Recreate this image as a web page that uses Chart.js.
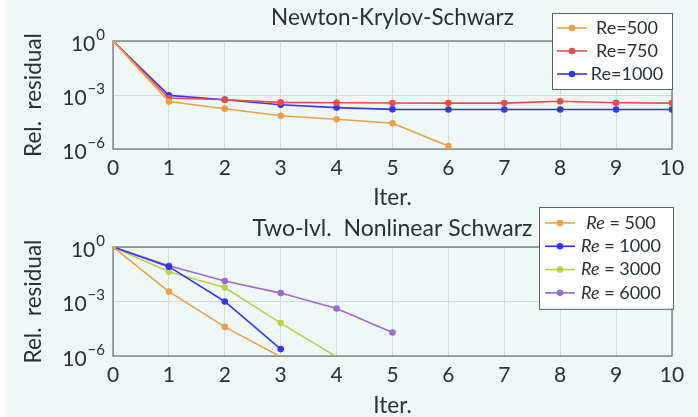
<!DOCTYPE html>
<html><head><meta charset="utf-8">
<script src="https://cdn.jsdelivr.net/npm/chart.js@4.4.1/dist/chart.umd.min.js"></script>
<style>
html,body{margin:0;padding:0;background:#fff;width:698px;height:417px;overflow:hidden;}
#panel{position:absolute;left:5px;top:0;width:693px;height:417px;background:#eff8f7;}
.c{position:absolute;left:0;width:698px;}
</style></head><body>
<div id="panel"></div>
<div class="c" style="top:0;height:215px"><canvas id="c1"></canvas></div>
<div class="c" style="top:200px;height:217px"><canvas id="c2"></canvas></div>
<script>
// ---- data ----
const iterations = [0,1,2,3,4,5,6,7,8,9,10];
const yTickValues = [1, 1e-3, 1e-6];
const yTickBase = '10';
const yTickExponents = ['0', '−3', '−6'];

// Newton-Krylov-Schwarz
const nksRe = [500, 750, 1000];
const nksRe500  = [1, 4.3e-4, 1.74e-4, 7.1e-5, 4.5e-5, 2.7e-5, 1.48e-6];
const nksRe750  = [1, 6.8e-4, 5.4e-4, 3.9e-4, 3.7e-4, 3.6e-4, 3.55e-4, 3.55e-4, 4.5e-4, 3.7e-4, 3.55e-4];
const nksRe1000 = [1, 9.5e-4, 5.5e-4, 2.9e-4, 2.0e-4, 1.6e-4, 1.55e-4, 1.55e-4, 1.55e-4, 1.55e-4, 1.55e-4];

// Two-level nonlinear Schwarz
const tlRe = [500, 1000, 3000, 6000];
const tlRe500  = [1, 3.5e-3, 4.0e-5, 9e-7];
const tlRe1000 = [1, 8.3e-2, 1.0e-3, 2.4e-6];
const tlRe3000 = [1, 4.3e-2, 5.9e-3, 6.5e-5, 9e-7];
const tlRe6000 = [1, 9.3e-2, 1.35e-2, 2.9e-3, 4.1e-4, 1.95e-5];

// ---- styling ----
const FONT = "Lato, 'DejaVu Sans', sans-serif";
const TXT = '#263238';
const COL = {orange:'#e8a04a', red:'#ee4b48', blue:'#3535f5', green:'#bcd050', purple:'#9a6bd0'};

function series(vals){ return vals.map((v,i)=>({x:iterations[i], y:v})); }
function ds(label, vals, color){
  return {label, data: series(vals), borderColor: color, backgroundColor: color,
    borderWidth: 1.6, pointRadius: c => (c.raw && c.raw.y < 1e-6 ? 0 : 3.3),
    pointHoverRadius: 3.3, pointBorderWidth: 0, tension: 0};
}

const titlePlugin = {
  id: 'plotTitle',
  afterDraw(chart, args, o){
    const ctx = chart.ctx, ca = chart.chartArea;
    ctx.save();
    ctx.font = o.size + 'px ' + FONT;
    ctx.fillStyle = TXT; ctx.textAlign = 'center'; ctx.textBaseline = 'middle';
    ctx.fillText(o.text, (ca.left + ca.right)/2, ca.top + o.dy);
    ctx.restore();
  }
};
const powTicksPlugin = {
  id: 'powTicks',
  afterDraw(chart){
    const ctx = chart.ctx, sy = chart.scales.y, right = chart.chartArea.left - 8;
    ctx.save(); ctx.fillStyle = TXT; ctx.textBaseline = 'middle'; ctx.textAlign = 'left';
    yTickValues.forEach((v, i) => {
      const py = sy.getPixelForValue(v);
      ctx.font = '15px ' + FONT; const we = ctx.measureText(yTickExponents[i]).width;
      ctx.font = '21px ' + FONT; const wb = ctx.measureText(yTickBase).width;
      const x0 = right - we - wb - 1;
      ctx.fillText(yTickBase, x0, py + 3);
      ctx.font = '15px ' + FONT; ctx.fillText(yTickExponents[i], x0 + wb + 1, py - 6);
    });
    ctx.restore();
  }
};
const boxPlugin = {
  id: 'plotBox',
  beforeDatasetsDraw(chart){
    const ctx = chart.ctx, ca = chart.chartArea;
    ctx.save(); ctx.strokeStyle = '#6b7070'; ctx.lineWidth = 1.2;
    ctx.strokeRect(ca.left, ca.top, ca.right - ca.left, ca.bottom - ca.top);
    ctx.restore();
  }
};
const legendPlugin = {
  id: 'boxLegend',
  afterDraw(chart, args, o){
    const ctx = chart.ctx, ca = chart.chartArea, list = chart.data.datasets;
    const h = list.length * o.rowH + 2*o.pad;
    const x1 = ca.right + o.dx - o.width, y1 = ca.top + o.dy;
    ctx.save();
    ctx.fillStyle = '#fff'; ctx.fillRect(x1, y1, o.width, h);
    ctx.strokeStyle = '#5a5f60'; ctx.lineWidth = 1; ctx.strokeRect(x1 + 0.5, y1 + 0.5, o.width, h);
    list.forEach((d, i) => {
      const y = y1 + o.pad + o.rowH*(i + 0.5);
      ctx.strokeStyle = d.borderColor; ctx.lineWidth = 1.6;
      ctx.beginPath(); ctx.moveTo(x1 + o.lx, y); ctx.lineTo(x1 + o.lx + 30, y); ctx.stroke();
      ctx.fillStyle = d.borderColor; ctx.beginPath(); ctx.arc(x1 + o.lx + 15, y, 3.3, 0, 2*Math.PI); ctx.fill();
      ctx.fillStyle = TXT; ctx.textBaseline = 'middle'; ctx.textAlign = 'left';
      const cx = x1 + o.tx;
      if (o.italic) {
        const [a, b] = [d.label.slice(0, 2), d.label.slice(2)];
        ctx.font = 'italic ' + o.size + 'px ' + FONT; const wa = ctx.measureText(a).width;
        ctx.font = o.size + 'px ' + FONT; const wb = ctx.measureText(b).width;
        const sx = cx - (wa + wb)/2;
        ctx.font = 'italic ' + o.size + 'px ' + FONT; ctx.fillText(a, sx, y);
        ctx.font = o.size + 'px ' + FONT; ctx.fillText(b, sx + wa, y);
      } else {
        ctx.font = o.size + 'px ' + FONT; ctx.textAlign = 'center'; ctx.fillText(d.label, cx, y);
      }
    });
    ctx.restore();
  }
};

function makeChart(id, datasets, cfg){
  return new Chart(document.getElementById(id), {
    type: 'line',
    data: { datasets },
    plugins: [boxPlugin, titlePlugin, powTicksPlugin, legendPlugin],
    options: {
      responsive: true, maintainAspectRatio: false, animation: false,
      layout: { padding: { left: 0, right: 26, top: cfg.top, bottom: 0 } },
      clip: 0,
      plugins: {
        legend: { display: false }, tooltip: { enabled: false }, title: { display: false },
        plotTitle: cfg.title,
        boxLegend: cfg.legend
      },
      scales: {
        x: {
          type: 'linear', min: 0, max: 10,
          afterFit: s => { s.height = cfg.xHeight; },
          ticks: { stepSize: 1, padding: 7, color: TXT, font: { family: FONT, size: 21 } },
          grid: { color: '#d3dada', lineWidth: 1, drawTicks: false },
          border: { display: false },
          title: { display: true, text: 'Iter.', color: TXT, font: { family: FONT, size: 22.5, lineHeight: 1 }, padding: { top: 0, bottom: cfg.xTitlePad } }
        },
        y: {
          type: 'logarithmic', min: 1e-6, max: 1,
          afterFit: s => { s.width = 113; },
          afterBuildTicks: s => { s.ticks = yTickValues.map(v => ({ value: v })); },
          ticks: { display: false },
          grid: { color: '#d3dada', lineWidth: 1, drawTicks: false },
          border: { display: false },
          title: { display: true, text: 'Rel.  residual', color: TXT, font: { family: FONT, size: 22.5, lineHeight: 1 }, padding: { top: 22, bottom: 0 } }
        }
      }
    }
  });
}

makeChart('c1', [
  ds('Re=' + nksRe[0], nksRe500, COL.orange),
  ds('Re=' + nksRe[1], nksRe750, COL.red),
  ds('Re=' + nksRe[2], nksRe1000, COL.blue)
], {
  top: 41, xHeight: 66, xTitlePad: 6,
  title: { text: 'Newton-Krylov-Schwarz', size: 22.5, dy: -23 },
  legend: { width: 120, rowH: 23, pad: 3.5, dx: 0, dy: -28, lx: 5, tx: 75, size: 18, italic: false }
});

makeChart('c2', [
  ds('Re = ' + tlRe[0], tlRe500, COL.orange),
  ds('Re = ' + tlRe[1], tlRe1000, COL.blue),
  ds('Re = ' + tlRe[2], tlRe3000, COL.green),
  ds('Re = ' + tlRe[3], tlRe6000, COL.purple)
], {
  top: 47, xHeight: 61, xTitlePad: 0,
  title: { text: 'Two-lvl.  Nonlinear Schwarz', size: 23, dy: -18 },
  legend: { width: 134, rowH: 23.3, pad: 4.3, dx: 1, dy: -40, lx: 6, tx: 82, size: 18, italic: true }
});
</script>
</body></html>
